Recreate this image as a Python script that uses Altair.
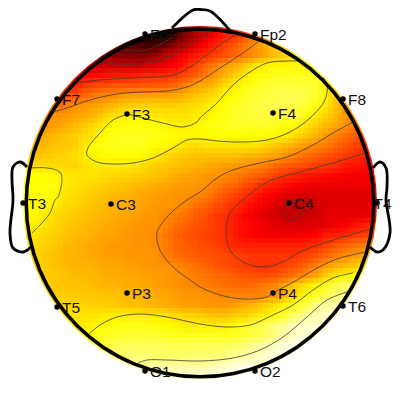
import altair as alt
import pandas as pd

alt.data_transformers.disable_max_rows()

# Estimated heat level per cell (0 black, 37 red, 75 yellow, 100 white)
ROW_Y = list(range(25, 386, 10))
ROW_X0 = [165, 145, 115, 105, 95, 85, 75, 65, 55, 45, 45, 35, 35, 25, 25, 25, 25, 25, 25, 25, 25, 25, 25, 25, 25, 35, 35, 45, 45, 55, 65, 75, 85, 95, 105, 125, 155]
ROWS = [
 [6,12,18,25,30,36,40,44],
 [5,3,3,12,19,27,32,37,42,44,49,54],
 [16,13,11,10,11,15,21,27,33,38,43,47,51,55,59,63,67],
 [22,20,19,19,19,22,28,33,37,41,44,47,50,53,56,59,62,66,69,71,72],
 [30,30,30,30,29,31,33,35,38,42,47,52,56,60,63,67,71,73,74,74,74,74],
 [38,39,40,41,41,42,43,43,44,45,49,51,56,60,64,68,72,75,77,78,78,78,78,77,74],
 [42,46,48,49,50,50,50,51,51,51,53,56,61,63,66,70,73,76,78,80,81,81,81,81,80,74,70],
 [48,50,53,56,57,58,60,61,61,61,61,62,64,66,68,70,74,76,78,80,81,82,83,83,82,80,74,68],
 [53,55,59,60,61,63,65,67,68,68,68,68,68,69,70,72,74,76,78,80,81,82,83,83,82,80,77,72,66,60],
 [56,59,60,61,63,65,68,71,73,74,73,72,71,71,71,72,73,75,77,79,80,81,81,81,80,79,76,73,69,65,60,57],
 [60,61,63,65,67,70,73,75,76,76,76,75,74,73,73,74,76,77,78,79,79,79,79,78,76,74,71,68,65,62,59,56],
 [62,63,65,66,68,70,72,75,77,78,78,78,77,76,75,74,74,74,75,75,75,75,75,75,74,73,70,67,64,60,57,54,51,47],
 [64,65,66,67,68,72,75,77,78,78,78,77,75,74,73,71,70,71,71,71,71,71,71,69,67,65,63,60,58,56,53,50,47,45],
 [66,66,67,68,69,70,73,74,75,75,75,75,74,72,70,68,67,66,66,66,66,66,65,64,63,61,59,56,54,52,50,48,46,44,43,42],
 [70,70,70,70,69,69,71,72,72,72,72,71,70,68,67,66,65,64,63,62,61,60,59,58,56,53,51,50,48,47,46,44,41,40,39,38],
 [75,75,75,74,72,71,71,71,70,69,69,68,67,66,65,63,62,61,60,59,58,56,54,52,50,47,45,43,41,40,39,38,37,36,36,36],
 [76,76,76,75,72,71,70,69,68,67,66,65,64,63,62,61,60,60,59,56,54,52,49,46,43,41,39,37,36,35,35,35,35,35,35,35],
 [76,76,76,74,71,70,68,67,66,65,64,63,62,61,60,59,59,58,56,53,50,47,44,41,38,36,33,32,31,32,33,33,33,33,33,33],
 [75,75,74,72,70,69,67,66,65,64,63,62,61,60,60,59,57,54,52,49,47,44,41,38,35,32,29,28,29,30,32,33,33,33,33,33],
 [75,74,72,70,68,67,66,65,64,63,62,61,60,60,58,56,54,51,49,46,44,41,38,35,33,31,30,29,30,31,33,34,34,34,35,35],
 [73,73,71,69,67,66,65,64,63,62,61,60,59,59,57,54,52,50,48,46,44,41,39,37,35,33,32,32,32,33,34,36,37,40,42,44],
 [71,71,69,68,66,65,64,63,62,61,60,59,59,58,55,52,50,49,47,46,44,41,39,37,36,36,36,36,37,38,41,42,44,46,47,48],
 [70,70,68,67,65,64,63,62,61,60,60,59,59,58,56,53,51,50,48,47,45,43,42,42,42,42,42,42,43,44,47,50,52,54,56,58],
 [69,69,67,66,65,64,63,62,61,61,60,60,60,59,56,54,52,51,50,49,48,47,46,45,45,45,45,45,47,49,52,55,58,60,62,63],
 [69,68,67,66,65,64,64,63,62,62,61,61,60,59,59,58,56,54,52,50,49,47,46,45,44,45,47,49,52,56,60,63,65,67,69,70],
 [69,68,67,66,65,65,64,63,63,62,62,61,61,60,59,58,56,55,53,52,51,50,49,49,50,52,55,58,62,67,72,74,75,77,79],
 [68,67,67,66,66,66,65,64,64,63,63,62,61,60,59,58,57,56,55,54,53,53,54,56,57,62,67,71,74,77,82,85],
 [69,68,68,67,67,67,66,66,65,65,64,63,62,61,60,60,59,58,57,57,57,57,58,60,65,70,74,79,83,86,88,90],
 [70,70,69,69,69,68,68,67,66,66,65,64,63,62,61,61,60,60,60,61,63,65,68,71,74,78,82,88,91,92],
 [72,71,71,71,71,72,73,73,73,72,72,71,70,69,68,67,66,66,68,69,71,73,76,81,86,89,92,94],
 [71,72,72,74,75,76,77,77,77,76,75,74,73,73,73,73,73,75,78,82,83,87,90,93,95],
 [72,75,77,78,79,80,80,80,80,79,78,78,78,78,78,78,79,80,82,84,88,92,95,96],
 [78,79,81,83,84,84,84,84,84,83,83,83,83,84,84,85,87,90,92,95,97,98],
 [80,83,85,86,86,86,85,85,85,85,86,86,86,87,89,91,93,95,97],
 [87,87,89,90,90,90,90,90,90,90,90,92,94,96,97],
 [91,92,93,94,94,95,96,97,98],
]
ROWS.append(ROWS[-1])
ROW_X0[-1] = 155
ROW_Y_ALL = ROW_Y[:len(ROWS)]

HOT_STOPS = [0, 37.5, 75, 100]
HOT_COLORS = ["#000000", "#ff0000", "#ffff00", "#ffffff"]

NAMES = ["Fp1", "Fp2", "F7", "F3", "F4", "F8", "T3", "C3", "C4", "T4", "T5", "P3", "P4", "T6", "O1", "O2"]
EX = [145, 255, 57, 127, 273, 343, 23, 111, 289, 377, 57, 127, 273, 343, 145, 255]
EY = [34, 34, 99, 114, 113, 99, 203, 204, 203, 203, 307, 293, 293, 306, 371, 371]
LX = [150, 260, 62, 132, 278, 348, 28, 116, 294, 373.5, 62, 132, 278, 348, 150, 260]

CONTOURS = [
 [(128,114),(113,120),(100,133),(88,148),(87,155),(97,162),(113,164),(133,163),(153,158),(173,148),(187,140),(200,139),(217,141),(240,142),(267,140),(290,132),(310,118),(325,100),(327,85),(323,77)],
 [(128,114),(147,119),(167,124),(183,127),(197,122),(200,118),(217,103),(233,85),(250,72),(267,63),(287,61),(300,61)],
 [(53,112),(70,107),(90,100),(117,94),(143,92),(167,91),(187,87),(200,81),(220,68),(240,55),(258,42)],
 [(77,83),(100,80),(133,78),(173,75),(187,69),(200,60),(217,47),(235,35)],
 [(100,63),(140,64),(167,58),(185,48),(200,37),(210,33)],
 [(123,50),(147,50),(173,37)],
 [(353,122),(333,133),(313,145),(287,157),(260,163),(233,170),(217,178),(200,192),(187,200),(167,217),(157,233),(160,250),(173,267),(193,282),(200,287),(220,295),(243,299),(267,297),(273,293),(297,280),(317,268),(340,258),(367,252)],
 [(365,153),(333,163),(300,172),(267,182),(243,200),(230,213),(226,233),(230,250),(243,262),(263,267),(283,262),(300,252),(327,242),(350,235),(370,229)],
 [(285,207),(284,213),(290,220),(298,218),(305,210),(307,205),(297,200),(285,207)],
 [(88,335),(100,325),(117,317),(140,314),(167,317),(200,324),(227,327),(250,325),(273,315),(293,305),(313,290),(333,278),(353,273)],
 [(138,363),(147,360),(167,360),(200,361),(233,358),(260,350),(283,337),(307,317),(327,300),(350,291)],
 [(30,168),(47,168),(60,172),(62,180),(58,197),(55,200),(50,213),(40,225),(32,233)],
]
OUTLINES = [
 [(27,167),(20,162),(13,167),(12,180),(13,200),(10,233),(13,248),(23,252),(31,247)],
 [(373,168),(380,162),(386,168),(387,187),(386,200),(390,233),(383,250),(377,252),(370,247)],
 [(172,28),(193,10),(200,9.5),(210,11),(232,33)],
]

PAD = 3
cells = []
for y, x0, row in zip(ROW_Y_ALL, ROW_X0, ROWS):
    vals = [row[0]] * PAD + row + [row[-1]] * PAD
    for i, v in enumerate(vals):
        cells.append({"cx": x0 + (i - PAD) * 10, "cy": y, "v": v})
cells_df = pd.DataFrame(cells)


def path_df(paths):
    rows = []
    for k, p in enumerate(paths):
        for j, (x, y) in enumerate(p):
            rows.append({"k": k, "j": j, "x": x, "y": y})
    return pd.DataFrame(rows)


xs = alt.Scale(domain=[8, 392], range=[0, 384], nice=False, zero=False)
ys = alt.Scale(domain=[8, 392], range=[0, 384], nice=False, zero=False)
color = alt.Color(
    "v:Q",
    scale=alt.Scale(domain=HOT_STOPS, range=HOT_COLORS, interpolate="rgb"),
    legend=None,
)


def heat(dx, dy, op):
    return (
        alt.Chart(cells_df)
        .transform_calculate(
            xa=f"datum.cx - 7 + {dx}",
            xb=f"datum.cx + 3 + {dx}",
            ya=f"datum.cy - 7 + {dy}",
            yb=f"datum.cy + 3 + {dy}",
        )
        .mark_rect(opacity=op, strokeWidth=0)
        .encode(
            x=alt.X("xa:Q", scale=xs, axis=None),
            x2="xb:Q",
            y=alt.Y("ya:Q", scale=ys, axis=None),
            y2="yb:Q",
            color=color,
        )
    )


def ring(r1, r2, col):
    return alt.Chart(pd.DataFrame({"x": [200], "y": [203]})).mark_arc(
        theta=0, theta2=6.2832, radius=r1, radius2=r2, color=col, strokeWidth=0
    ).encode(
        x=alt.X("x:Q", scale=xs, axis=None), y=alt.Y("y:Q", scale=ys, axis=None)
    )


contours = alt.Chart(path_df(CONTOURS)).mark_line(
    color="#3c3c3c", strokeWidth=0.8, interpolate="catmull-rom"
).encode(
    x=alt.X("x:Q", scale=xs, axis=None), y=alt.Y("y:Q", scale=ys, axis=None),
    detail="k:N", order="j:Q",
)
outlines = alt.Chart(path_df(OUTLINES)).mark_line(
    color="black", strokeWidth=2.8, interpolate="catmull-rom"
).encode(
    x=alt.X("x:Q", scale=xs, axis=None), y=alt.Y("y:Q", scale=ys, axis=None),
    detail="k:N", order="j:Q",
)
elec = pd.DataFrame({"name": NAMES, "x": EX, "y": EY, "lx": LX})
dots = alt.Chart(elec).mark_point(filled=True, color="black", size=30, opacity=1).encode(
    x=alt.X("x:Q", scale=xs, axis=None), y=alt.Y("y:Q", scale=ys, axis=None)
)
labels = alt.Chart(elec).mark_text(
    align="left", baseline="middle", dy=1, font="Liberation Sans", fontSize=15.5, color="#111111"
).encode(
    x=alt.X("lx:Q", scale=xs, axis=None), y=alt.Y("y:Q", scale=ys, axis=None), text="name:N"
)

chart = alt.layer(
    heat(0, 0, 1), heat(5, 0, 0.5), heat(0, 5, 1 / 3), heat(5, 5, 0.25),
    ring(177, 290, "white"),
    contours,
    ring(172, 175.5, "black"),
    outlines, dots, labels,
).properties(width=384, height=384, padding=0, autosize=alt.AutoSizeParams(type="none")
).configure_view(stroke=None)

chart.save("out.html", embed_options={"renderer": "svg", "actions": False})
